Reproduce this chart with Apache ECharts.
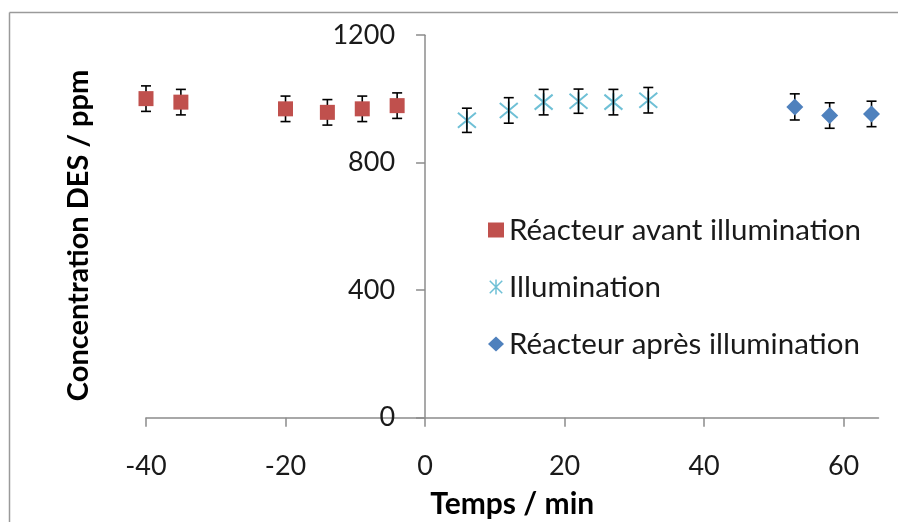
<!DOCTYPE html>
<html>
<head>
<meta charset="utf-8">
<script src="https://cdn.jsdelivr.net/npm/echarts@6/dist/echarts.min.js"></script>
<style>
html,body{margin:0;padding:0;background:#fff;}
#chart{width:898px;height:522px;}
</style>
</head>
<body>
<div id="chart"></div>
<script>
// Data
const avantTime = [-40, -35, -20, -14, -9, -4];
const avantConc = [1001, 990, 969, 958, 969, 979];
const avantErr  = [40, 40, 40, 40, 40, 40];

const illumTime = [6, 12, 17, 22, 27, 32];
const illumConc = [933, 964, 990, 993, 990, 996];
const illumErr  = [38, 40, 40, 38, 40, 40];

const apresTime = [53, 58, 64];
const apresConc = [975, 948, 953];
const apresErr  = [41, 40, 40];

const xTicks = [-40, -20, 0, 20, 40, 60];
const yTicks = [0, 400, 800, 1200];

const seriesNames = ['Réacteur avant illumination', 'Illumination', 'Réacteur après illumination'];

const FONT = 'Lato';
const AXIS_COLOR = '#8c8c8c';

const GRID_LEFT = 146, GRID_RIGHT = 19.5;
const X_MIN = xTicks[0], X_MAX = 65;
const plotW = 898 - GRID_LEFT - GRID_RIGHT;
// shift the y axis so that it crosses the x axis at x = 0
const yAxisOffset = -((0 - X_MIN) / (X_MAX - X_MIN)) * plotW;

function pts(t, c) { return t.map((v, i) => [v, c[i]]); }
function errPts(t, c, e) { return t.map((v, i) => [v, c[i], e[i]]); }

function errorBarItem(params, api) {
  const x = api.value(0), y = api.value(1), e = api.value(2);
  const top = api.coord([x, y + e]);
  const bot = api.coord([x, y - e]);
  const hw = 5;
  const st = { stroke: '#000', lineWidth: 1.6 };
  return {
    type: 'group',
    children: [
      { type: 'line', shape: { x1: top[0], y1: top[1], x2: bot[0], y2: bot[1] }, style: st },
      { type: 'line', shape: { x1: top[0] - hw, y1: top[1], x2: top[0] + hw, y2: top[1] }, style: st },
      { type: 'line', shape: { x1: bot[0] - hw, y1: bot[1], x2: bot[0] + hw, y2: bot[1] }, style: st }
    ]
  };
}

const starPath = 'path://M0,0L10,10M10,0L0,10M5,-1L5,11';

const chart = echarts.init(document.getElementById('chart'));
chart.setOption({
  animation: false,
  backgroundColor: '#fff',
  textStyle: { fontFamily: FONT },
  grid: { left: GRID_LEFT, right: GRID_RIGHT, top: 35.2, bottom: 104.3, containLabel: false, outerBoundsMode: 'none' },
  graphic: [
    { type: 'line', shape: { x1: 9.5, y1: 12.5, x2: 898, y2: 12.5 }, style: { stroke: '#9a9a9a', lineWidth: 1.5 } },
    { type: 'line', shape: { x1: 9.5, y1: 12.5, x2: 9.5, y2: 522 }, style: { stroke: '#9a9a9a', lineWidth: 1.5 } }
  ],
  xAxis: {
    type: 'value',
    min: X_MIN,
    max: X_MAX,
    interval: 20,
    splitLine: { show: false },
    axisLine: { show: true, onZero: false, lineStyle: { color: AXIS_COLOR, width: 1.5 } },
    axisTick: { show: true, inside: false, length: 9, lineStyle: { color: AXIS_COLOR, width: 1.5 } },
    axisLabel: {
      showMaxLabel: false,
      margin: 35,
      fontSize: 27, color: '#1a1a1a', fontFamily: FONT,
      formatter: v => xTicks.includes(v) ? String(v) : ''
    },
    name: 'Temps / min',
    nameLocation: 'middle',
    nameGap: 72,
    nameTextStyle: { fontSize: 30, fontWeight: 'bold', color: '#000', fontFamily: FONT }
  },
  yAxis: {
    type: 'value',
    min: yTicks[0],
    max: yTicks[yTicks.length - 1],
    interval: 400,
    position: 'left',
    offset: yAxisOffset,
    splitLine: { show: false },
    axisLine: { show: true, onZero: false, lineStyle: { color: AXIS_COLOR, width: 1.5 } },
    axisTick: { show: true, inside: false, length: 9, lineStyle: { color: AXIS_COLOR, width: 1.5 } },
    axisLabel: { margin: 30, fontSize: 27, color: '#1a1a1a', fontFamily: FONT, formatter: v => String(v) },
    name: 'Concentration DES / ppm',
    nameLocation: 'middle',
    nameRotate: 90,
    nameGap: 332,
    nameTextStyle: { fontSize: 29, fontWeight: 'bold', color: '#000', fontFamily: FONT, padding: [0, 18, 0, 0] }
  },
  legend: {
    orient: 'vertical',
    left: 483,
    top: 210,
    itemGap: 27,
    itemWidth: 16,
    itemHeight: 15,
    textStyle: { fontSize: 29.5, color: '#1a1a1a', fontFamily: FONT },
    data: [
      { name: seriesNames[0], icon: 'rect' },
      { name: seriesNames[1], icon: starPath, itemStyle: { color: 'rgba(0,0,0,0)', borderColor: '#6fc0d6', borderWidth: 1.5 } },
      { name: seriesNames[2], icon: 'diamond' }
    ]
  },
  series: [
    { type: 'custom', name: 'errA', renderItem: errorBarItem, data: errPts(avantTime, avantConc, avantErr), z: 1, silent: true },
    { type: 'custom', name: 'errI', renderItem: errorBarItem, data: errPts(illumTime, illumConc, illumErr), z: 3, silent: true },
    { type: 'custom', name: 'errP', renderItem: errorBarItem, data: errPts(apresTime, apresConc, apresErr), z: 1, silent: true },
    {
      type: 'scatter', name: seriesNames[0], data: pts(avantTime, avantConc), z: 2,
      symbol: 'rect', symbolSize: 15, itemStyle: { color: '#c0504d', opacity: 1 }
    },
    {
      type: 'scatter', name: seriesNames[1], data: pts(illumTime, illumConc), z: 2,
      symbol: starPath, symbolSize: 18,
      itemStyle: { color: 'rgba(0,0,0,0)', borderColor: '#6fc0d6', borderWidth: 2, opacity: 1 }
    },
    {
      type: 'scatter', name: seriesNames[2], data: pts(apresTime, apresConc), z: 2,
      symbol: 'diamond', symbolSize: 17, itemStyle: { color: '#4f81bd', opacity: 1 }
    }
  ]
});
</script>
</body>
</html>
